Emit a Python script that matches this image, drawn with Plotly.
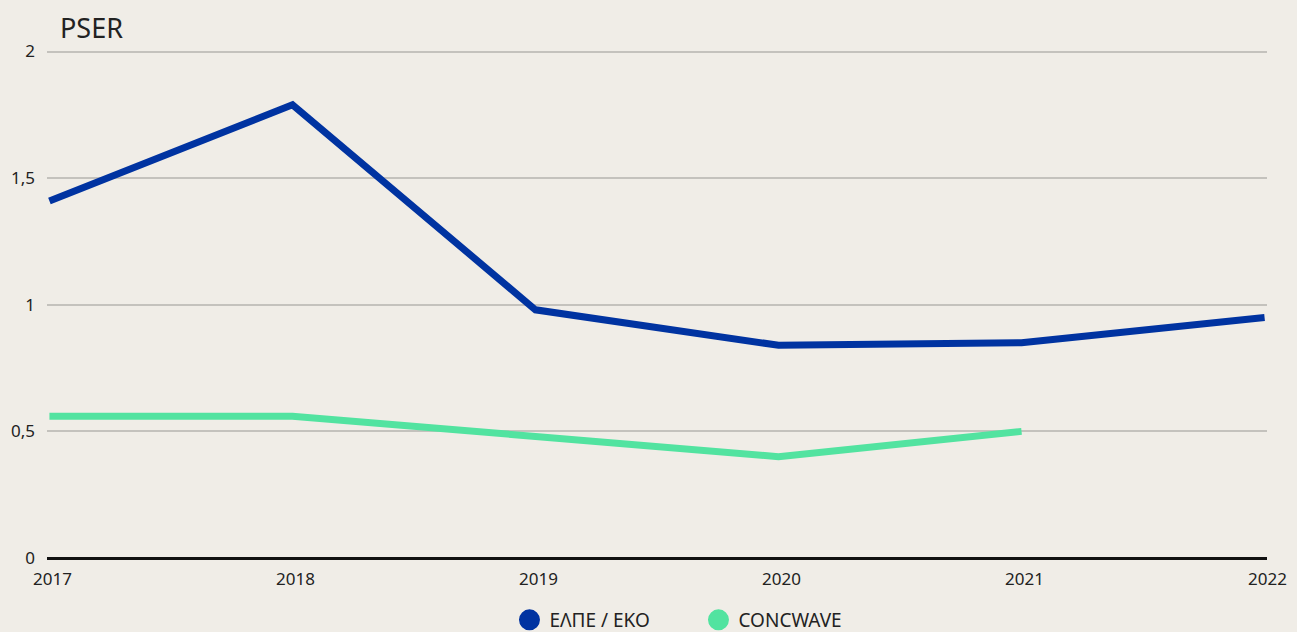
import plotly.graph_objects as go

years = [2017, 2018, 2019, 2020, 2021, 2022]
elpe = [1.41, 1.79, 0.98, 0.84, 0.85, 0.95]
conc_years = [2017, 2018, 2019, 2020, 2021]
concwave = [0.56, 0.56, 0.48, 0.40, 0.50]
series_names = ["ΕΛΠΕ / ΕΚΟ", "CONCWAVE"]
colors = ["#0033a1", "#52e3a0"]
y_ticks = [0, 0.5, 1, 1.5, 2]

FONT = "Noto Sans"
fig = go.Figure()
fig.add_trace(go.Scatter(x=years, y=elpe, mode="lines", name=series_names[0],
                         line=dict(color=colors[0], width=7), showlegend=False))
fig.add_trace(go.Scatter(x=conc_years, y=concwave, mode="lines", name=series_names[1],
                         line=dict(color=colors[1], width=7), showlegend=False))
for n, c in zip(series_names, colors):
    fig.add_trace(go.Scatter(x=[None], y=[None], mode="markers", name=n,
                             marker=dict(symbol="circle", size=16, color=c,
                                         line=dict(color=c, width=5))))

fig.update_layout(
    width=1297, height=632,
    paper_bgcolor="#f0ede7", plot_bgcolor="#f0ede7",
    margin=dict(l=47, r=30, t=49, b=74, autoexpand=False),
    font=dict(family=FONT, size=17, color="#222222"),
    separators=",.",
    showlegend=True,
    legend=dict(orientation="h", x=0.534, xanchor="center",
                yref="container", y=1 - 620 / 632, yanchor="middle",
                font=dict(size=19, color="#222222"), itemsizing="trace",
                entrywidth=144, entrywidthmode="pixels",
                bgcolor="rgba(0,0,0,0)"),
    annotations=[dict(text="PSER", xref="paper", yref="paper", x=0.009, y=1.043,
                      xanchor="left", yanchor="middle", showarrow=False,
                      font=dict(size=27, color="#222222", family=FONT))],
)
fig.update_xaxes(range=[2016.99, 2022.01], tickvals=years, showgrid=False,
                 zeroline=False, showline=False, ticks="", ticklabelstandoff=9,
                 ticklabelshift=3, tickfont=dict(size=17))
fig.update_yaxes(range=[0, 2.01], tickvals=y_ticks, showgrid=True, gridcolor="#c4c2bd",
                 gridwidth=2, zeroline=True, zerolinecolor="#111111", zerolinewidth=3,
                 ticks="", ticklabelstandoff=11, tickfont=dict(size=17))

fig.write_html("out.html", config={"displayModeBar": False},
               post_script="document.body.style.margin='0';")
